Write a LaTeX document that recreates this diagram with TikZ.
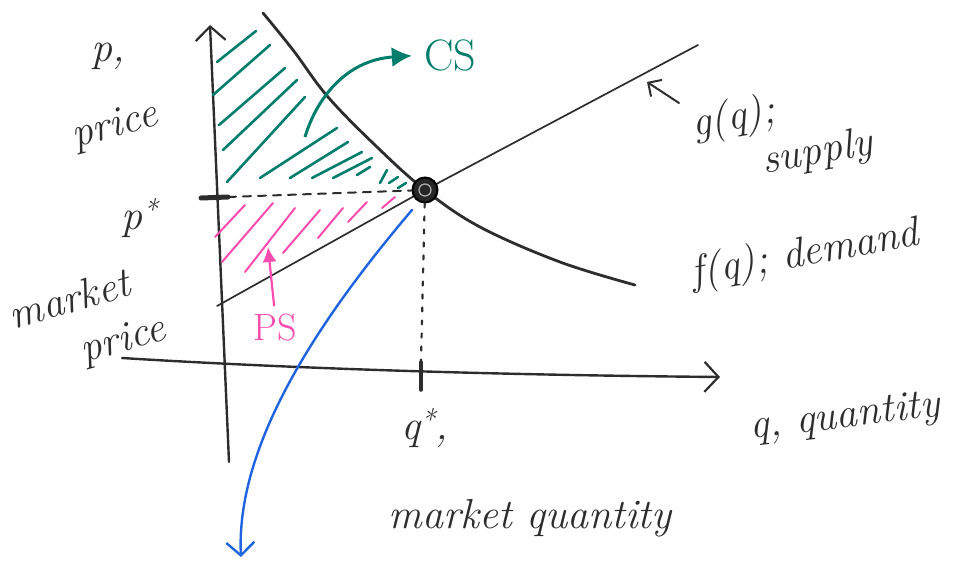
\documentclass[tikz,border=0pt]{standalone}
\usepackage{amsmath,amssymb}
\usepackage{xcolor}
\usepackage{tikz}
\usetikzlibrary{arrows.meta, positioning}
\definecolor{csteal}{RGB}{0,125,108}
\definecolor{pspink}{RGB}{250,75,175}
\definecolor{qblue}{RGB}{30,100,225}
\definecolor{ink}{RGB}{45,45,45}

\begin{document}
\begin{tikzpicture}[
    x=1pt, y=-1pt,
    pen/.style={draw=ink, line cap=round},
    hand/.style={font=\fontsize{42}{46}\selectfont\itshape, text=ink, inner sep=0pt},
    barb/.style={-{Straight Barb[length=14pt, width=30pt, line width=2.2pt]}},
    eqdot/.style={circle, fill=black!85, draw=black, line width=2pt,
                  minimum size=25pt, inner sep=0pt}
  ]
  \useasboundingbox (0,0) rectangle (962,562);

  % axes
  \coordinate (yfoot) at (229,462);
  \coordinate (ytop) at (210,25);
  \coordinate (xfoot) at (122,358);
  \coordinate (xtip) at (720,377);
  \draw[pen, line width=2.4pt, barb] (yfoot) -- (ytop);
  \draw[pen, line width=2.4pt, barb]
    (xfoot) .. controls (300,369) and (500,375) .. (xtip);

  % hatching, consumer surplus
  \foreach \xa/\ya/\xb/\yb in {217/62/256/31, 213/95/270/45, 219/125/285/68,
      223/150/297/80, 227/182/305/97, 260/178/337/128, 290/178/348/142,
      312/178/362/152, 333/178/372/158, 357/175/370/167, 380/183/387/170,
      389/183/398/177, 398/188/406/183}
    \draw[csteal, line width=2.6pt, line cap=round] (\xa,\ya) -- (\xb,\yb);

  % hatching, producer surplus
  \foreach \xa/\ya/\xb/\yb in {215/237/245/205, 222/262/273/203, 245/272/295/208,
      283/253/320/210, 318/238/343/208, 348/222/367/202, 382/208/395/197}
    \draw[pspink, line width=2pt, line cap=round] (\xa,\ya) -- (\xb,\yb);

  % supply and demand
  \coordinate (sfoot) at (217,306);
  \coordinate (stop) at (698,45);
  \coordinate (eqc) at (425,190);
  \draw[pen, line width=1.7pt] (sfoot) -- (eqc) -- (stop);
  \draw[pen, line width=2.8pt] plot[smooth, tension=0.6] coordinates
    {(263,13) (293,50) (328,97) (377,147) (425,190) (480,227) (560,262) (635,285)};

  % equilibrium
  \node[eqdot] (eq) at (eqc) {};
  \draw[gray!60, line width=1.2pt] (eq.center) circle (6);

  % p* and q*
  \coordinate (pmark) at (201,198);
  \coordinate (paxis) at (228,197);
  \coordinate (qmark) at (421,390);
  \coordinate (qaxis) at (421,362);
  \draw[pen, line width=5pt] (pmark) -- (paxis);
  \draw[pen, line width=2pt, dash pattern=on 8pt off 7pt] (paxis) -- (eq);
  \draw[pen, line width=3.5pt] (qaxis) -- (qmark);
  \draw[pen, line width=2.2pt, dash pattern=on 4pt off 9pt] (eq) -- (qaxis);

  % surplus labels
  \node[hand, font=\fontsize{44}{46}\selectfont, text=csteal] (cs) at (450,55) {CS};
  \coordinate (cstail) at (305,137);
  \draw[csteal, line width=3pt, shorten >=12pt, -{Latex[length=20pt, width=20pt]}]
    (cstail) .. controls (316,100) and (345,60) .. (cs.west);
  \node[hand, font=\fontsize{38}{40}\selectfont, text=pspink] (ps) at (275,328) {PS};
  \coordinate (pstip) at (268,247);
  \draw[pspink, line width=2.2pt, shorten <=8pt, -{Latex[length=15pt, width=14pt]}]
    (ps.north) -- (pstip);

  % blue pointer
  \coordinate (bluestart) at (412,210);
  \coordinate (bluetip) at (241,557);
  \draw[qblue, line width=2.4pt, line cap=round,
        -{Straight Barb[length=13pt, width=28pt, line width=2.4pt]}]
    (bluestart) .. controls (310,330) and (236,450) .. (bluetip);

  % supply pointer
  \coordinate (gtail) at (679,103);
  \coordinate (gtip) at (647,82);
  \draw[pen, line width=2pt, -{Straight Barb[length=10pt, width=20pt, line width=2pt]}]
    (gtail) -- (gtip);

  % texts
  \node[hand] (plab) at (108,56) {p,};
  \node[hand, rotate=15] (price) at (115,127) {price};
  \node[hand] (pstar) at (140,218) {p\textsuperscript{*}};
  \node[hand, rotate=16, align=left] (mkt) at (88,324)
    {market\\[6pt]\hspace{1.4em}price};
  \node[hand, rotate=10, align=left] (glab) at (782,134)
    {g(q);\\[2pt]\hspace{1.5em}supply};
  \node[hand, rotate=10] (dlab) at (805,255) {f(q); demand};
  \node[hand, rotate=7] (qlab) at (845,418) {q, quantity};
  \node[hand] (qstar) at (425,428) {q\textsuperscript{*},};
  \node[hand] (mq) at (530,518) {market quantity};
\end{tikzpicture}
\end{document}
